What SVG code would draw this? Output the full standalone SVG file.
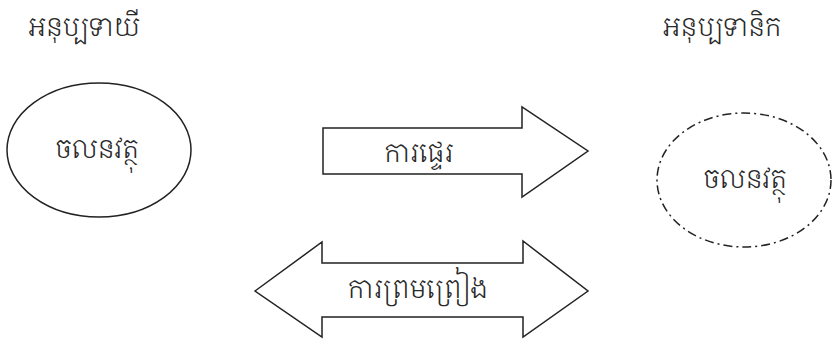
<svg xmlns="http://www.w3.org/2000/svg" width="832" height="341" viewBox="0 0 832 341">
<style>
.t{font-family:"Noto Serif Khmer","Noto Sans Khmer","Khmer OS","DejaVu Sans","Noto Sans",sans-serif;font-size:26px;font-weight:300;fill:#2a2a2a;text-anchor:middle}
.s{fill:#fff;stroke:#222;stroke-width:1.5;stroke-linejoin:miter}
.dd{fill:none;stroke:#222;stroke-width:1.5;stroke-dasharray:9 4 2 4}
</style>
<rect width="832" height="341" fill="#fff"/>
<g id="label-left"><text class="t" x="84" y="36">អនុប្បទាយី</text></g>
<g id="label-right"><text class="t" x="722" y="36">អនុប្បទានិក</text></g>
<g id="node-left"><ellipse class="s" cx="99" cy="150" rx="92" ry="67"/><text class="t" x="97" y="158">ចលនវត្ថុ</text></g>
<g id="node-right"><ellipse class="dd" cx="744" cy="180" rx="87" ry="67"/><text class="t" x="745" y="188">ចលនវត្ថុ</text></g>
<g id="connectors">
<g id="arrow-transfer"><polygon class="s" points="323,128 522,128 522,107 588,151 522,197 522,174 323,174"/><text class="t" x="419" y="162">ការផ្ទេរ</text></g>
<g id="arrow-agreement"><polygon class="s" points="255,291 322,242 322,263 523,263 523,241 588,291 523,337 523,317 322,317 322,337"/><text class="t" x="418" y="298">ការព្រមព្រៀង</text></g>
</g>
</svg>
